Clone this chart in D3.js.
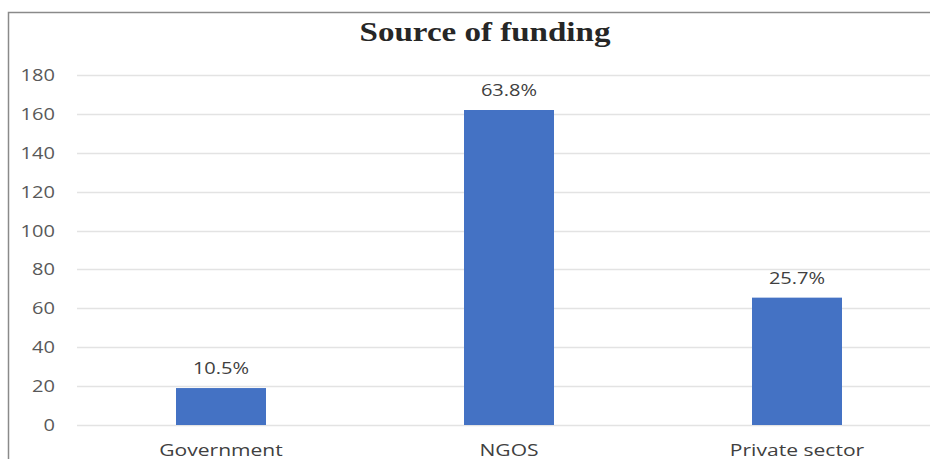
<!DOCTYPE html>
<html>
<head>
<meta charset="utf-8">
<script src="https://cdn.jsdelivr.net/npm/d3@7"></script>
<style>
  body { margin: 0; background: #fff; }
  svg { display: block; }
</style>
</head>
<body>
<svg></svg>
<script>
let width = 930,
    height = 459;

// chart data
let categories = ["Government", "NGOS", "Private sector"];
let counts = [19, 162, 65.5];
let percentLabels = ["10.5%", "63.8%", "25.7%"];
let yTicks = [0, 20, 40, 60, 80, 100, 120, 140, 160, 180];
let title = "Source of funding";

let stretch = 1.18; // the picture is a bit wider than tall

let svg = d3.select('svg')
    .attr('width', width)
    .attr('height', height);

// outer frame (cut off at right and bottom)
svg.append('rect')
    .attr('x', 8.5)
    .attr('y', 12.5)
    .attr('width', 1000)
    .attr('height', 1000)
    .attr('fill', '#fff')
    .attr('stroke', '#8a8a8a')
    .attr('stroke-width', 1.5);

let x = d3.scaleBand()
    .domain(categories)
    .range([77, 941])
    .paddingInner(0.6875)
    .paddingOuter(0.34375);

let y = d3.scaleLinear()
    .domain([0, 180])
    .range([425, 75]);

// gridlines
svg.append('g')
    .selectAll('line')
    .data(yTicks)
    .enter().append('line')
    .attr('x1', 77)
    .attr('x2', 941)
    .attr('y1', d => Math.round(y(d)) + 0.5)
    .attr('y2', d => Math.round(y(d)) + 0.5)
    .attr('stroke', '#e3e3e3')
    .attr('stroke-width', 1.5);

// y tick labels
svg.append('g')
    .selectAll('text')
    .data(yTicks)
    .enter().append('text')
    .attr('transform', d => `translate(55,${y(d) + 6}) scale(${stretch},1)`)
    .attr('text-anchor', 'end')
    .attr('font-family', 'Open Sans')
    .attr('font-size', 17)
    .attr('fill', '#595959')
    .text(d => d);

// bars
svg.append('g')
    .selectAll('rect')
    .data(categories)
    .enter().append('rect')
    .attr('x', d => x(d))
    .attr('y', (d, i) => y(counts[i]))
    .attr('width', x.bandwidth())
    .attr('height', (d, i) => y(0) - y(counts[i]))
    .attr('fill', '#4472C4');

// data labels
svg.append('g')
    .selectAll('text')
    .data(categories)
    .enter().append('text')
    .attr('transform', (d, i) => `translate(${x(d) + x.bandwidth() / 2},${y(counts[i]) - 14}) scale(${stretch},1)`)
    .attr('text-anchor', 'middle')
    .attr('font-family', 'Open Sans')
    .attr('font-size', 17)
    .attr('fill', '#404040')
    .text((d, i) => percentLabels[i]);

// category labels (bottom edge of the picture cuts them, as in the source)
svg.append('g')
    .selectAll('text')
    .data(categories)
    .enter().append('text')
    .attr('transform', d => `translate(${x(d) + x.bandwidth() / 2},456) scale(1.24,1)`)
    .attr('text-anchor', 'middle')
    .attr('font-family', 'Open Sans')
    .attr('font-size', 17)
    .attr('fill', '#404040')
    .text(d => d);

// title
svg.append('text')
    .attr('transform', `translate(485,41) scale(${stretch},1)`)
    .attr('text-anchor', 'middle')
    .attr('font-family', 'Liberation Serif')
    .attr('font-weight', 'bold')
    .attr('font-size', 28)
    .attr('fill', '#262626')
    .text(title);
</script>
</body>
</html>
